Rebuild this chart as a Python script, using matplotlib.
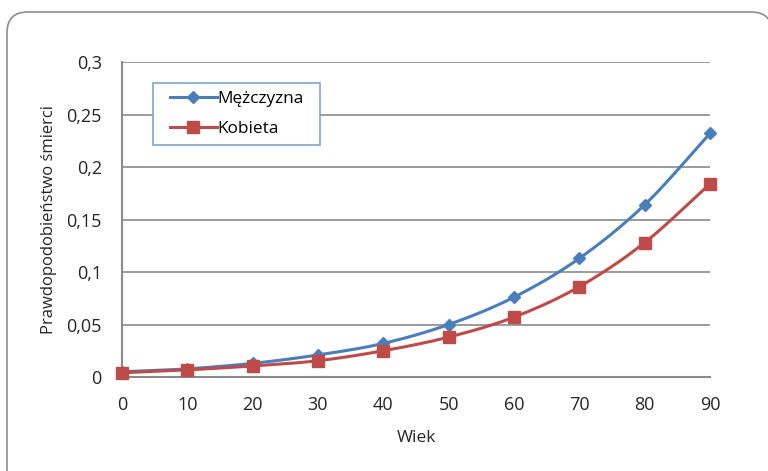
import numpy as np
import matplotlib
matplotlib.use("Agg")
import matplotlib.pyplot as plt
from matplotlib.patches import FancyBboxPatch, Rectangle
from matplotlib.lines import Line2D

ages = [0, 10, 20, 30, 40, 50, 60, 70, 80, 90]
men = [0.005, 0.0078, 0.013, 0.021, 0.032, 0.050, 0.076, 0.113, 0.164, 0.232]
women = [0.004, 0.0068, 0.0105, 0.0155, 0.025, 0.038, 0.057, 0.086, 0.128, 0.184]
yticks = [0, 0.05, 0.1, 0.15, 0.2, 0.25, 0.3]
ytick_labels = ["0", "0,05", "0,1", "0,15", "0,2", "0,25", "0,3"]
series_names = ["Mężczyzna", "Kobieta"]

plt.rcParams['font.family'] = ['Open Sans', 'DejaVu Sans']

W, H = 768, 471


def catmull_rom(x, y, n=30):
    x = np.asarray(x, float)
    y = np.asarray(y, float)
    px = np.concatenate([[2 * x[0] - x[1]], x, [2 * x[-1] - x[-2]]])
    py = np.concatenate([[2 * y[0] - y[1]], y, [2 * y[-1] - y[-2]]])
    xs, ys = [], []
    for i in range(1, len(px) - 2):
        t = np.linspace(0, 1, n, endpoint=False)
        for arr, out in ((px, xs), (py, ys)):
            p0, p1, p2, p3 = arr[i - 1], arr[i], arr[i + 1], arr[i + 2]
            out.append(0.5 * ((2 * p1) + (-p0 + p2) * t +
                              (2 * p0 - 5 * p1 + 4 * p2 - p3) * t ** 2 +
                              (-p0 + 3 * p1 - 3 * p2 + p3) * t ** 3))
    xs.append([x[-1]])
    ys.append([y[-1]])
    return np.concatenate(xs), np.concatenate(ys)


fig = plt.figure(figsize=(W / 100, H / 100), dpi=100)
# outer rounded frame (right edge at the image border, bottom past it)
frame = FancyBboxPatch((7 / W, 1 - 495 / H), 765 / W, 483 / H,
                       boxstyle="round,pad=0,rounding_size=0.027",
                       transform=fig.transFigure, facecolor="white",
                       edgecolor="#8c8c8c", linewidth=1.2,
                       mutation_aspect=W / H, zorder=-5)
fig.patches.append(frame)

ax = fig.add_axes([122 / W, 1 - 377 / H, 588 / W, 315 / H])
ax.set_facecolor("none")
ax.set_zorder(2)

blue = "#4A7EBB"
red = "#BE4B48"

sx, sy = catmull_rom(ages, men)
ax.plot(sx, sy, color=blue, lw=2.2, zorder=3, clip_on=False)
ax.plot(ages, men, linestyle="none", marker="D", markersize=6.5, color=blue, zorder=4, clip_on=False)
sx, sy = catmull_rom(ages, women)
ax.plot(sx, sy, color=red, lw=2.2, zorder=3, clip_on=False)
ax.plot(ages, women, linestyle="none", marker="s", markersize=9, color=red, zorder=4, clip_on=False)

ax.set_xlim(0, 90)
ax.set_ylim(0, 0.3)
ax.set_xticks(ages)
ax.set_xticklabels([str(a) for a in ages], fontsize=13)
ax.set_yticks(yticks)
ax.set_yticklabels(ytick_labels, fontsize=13)
ax.tick_params(length=0, colors="#262626")
ax.tick_params(axis="x", pad=14)
ax.tick_params(axis="y", pad=14.5)
ax.grid(axis="y", color="#8a8a8a", linewidth=1.2)
ax.set_axisbelow(True)
for s in ["top", "right"]:
    ax.spines[s].set_visible(False)
for s in ["left", "bottom"]:
    ax.spines[s].set_color("#8a8a8a")
    ax.spines[s].set_linewidth(1.5)

ax.set_xlabel("Wiek", fontsize=12.5, color="#262626")
ax.xaxis.set_label_coords(0.5, (377 - 430) / 315)
ax.set_ylabel("Prawdopodobieństwo śmierci", fontsize=12, color="#262626")
ax.yaxis.set_label_coords((57 - 122) / 588, 0.5)

# legend box
box = Rectangle((153 / W, 1 - 145 / H), 167 / W, 62 / H, transform=fig.transFigure,
                facecolor="white", edgecolor="#7FA4D6", linewidth=1.2, zorder=5)
fig.patches.append(box)

handles = [Line2D([], [], color=blue, lw=2.2, marker="D", markersize=6.5),
           Line2D([], [], color=red, lw=2.2, marker="s", markersize=9)]
leg = fig.legend(handles, series_names, loc="center left",
                 bbox_to_anchor=(170 / W, 1 - 114 / H), fontsize=12.4,
                 frameon=False, handlelength=2.7,
                 handletextpad=0.05, borderpad=0, labelspacing=0.85,
                 borderaxespad=0)
leg.set_zorder(6)

fig.savefig("out.png", dpi=100)
